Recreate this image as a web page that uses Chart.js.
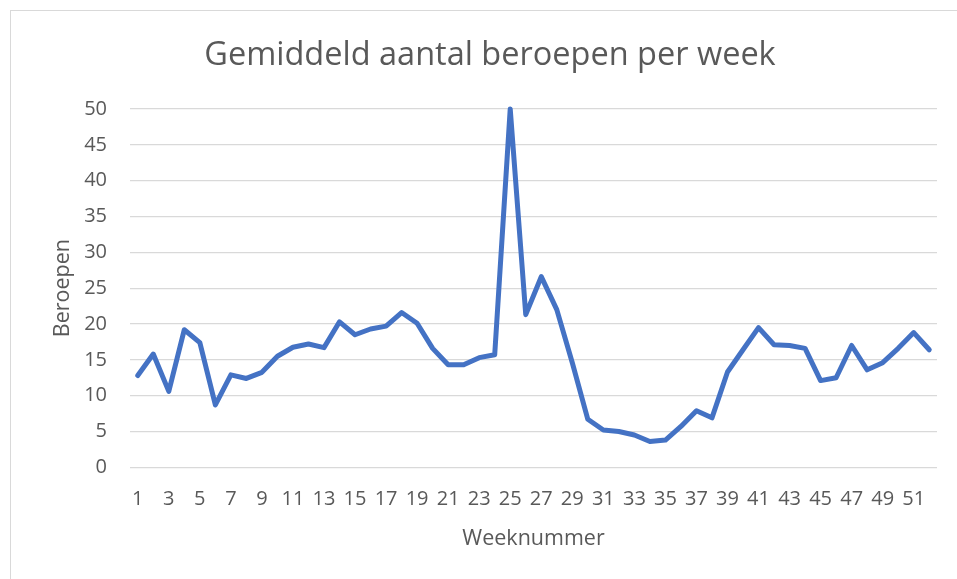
<!DOCTYPE html>
<html>
<head>
<meta charset="utf-8">
<script src="https://cdn.jsdelivr.net/npm/chart.js@4"></script>
<style>
  html, body { margin: 0; padding: 0; background: #ffffff; overflow: hidden; }
  #frame { position: absolute; left: 10px; top: 10px; width: 1000px; height: 700px; border: 1px solid #d9d9d9; box-sizing: border-box; }
  #c { position: absolute; left: 0; top: 0; }
</style>
</head>
<body>
<div id="frame"></div>
<canvas id="c" width="957" height="579"></canvas>
<script>
const weeks = Array.from({length: 52}, (_, i) => String(i + 1));
const beroepen = [
  12.8, 15.8, 10.6, 19.2, 17.4, 8.7, 12.9, 12.4, 13.25, 15.5,
  16.75, 17.2, 16.7, 20.3, 18.5, 19.3, 19.7, 21.6, 20.1, 16.6,
  14.3, 14.3, 15.3, 15.7, 50.0, 21.3, 26.6, 22.0, 14.6, 6.7,
  5.2, 5.0, 4.5, 3.6, 3.8, 5.7, 7.9, 6.9, 13.3, 16.4,
  19.5, 17.1, 17.0, 16.6, 12.1, 12.5, 17.0, 13.6, 14.6, 16.6,
  18.8, 16.4
];
const titleText = 'Gemiddeld aantal beroepen per week';
const xTitle = 'Weeknummer';
const yTitle = 'Beroepen';

const textColor = '#595959';
const gridColor = '#d9d9d9';
const fontFamily = '"Open Sans", "Noto Sans", sans-serif';

new Chart(document.getElementById('c'), {
  type: 'line',
  data: {
    labels: weeks,
    datasets: [{
      label: yTitle,
      data: beroepen,
      borderColor: '#4472C4',
      backgroundColor: '#4472C4',
      borderWidth: 5,
      pointRadius: 0,
      pointHoverRadius: 0,
      tension: 0,
      borderJoinStyle: 'round',
      borderCapStyle: 'round',
      clip: false
    }]
  },
  options: {
    responsive: false,
    animation: false,
    layout: { padding: { left: 43, right: 20, top: 0, bottom: 0 } },
    plugins: {
      legend: { display: false },
      tooltip: { enabled: false },
      title: {
        display: true,
        text: titleText,
        color: textColor,
        font: { family: fontFamily, size: 32.5, weight: 'normal', lineHeight: 1.2 },
        padding: { top: 36.5, bottom: 33.5 }
      }
    },
    scales: {
      x: {
        offset: true,
        grid: { display: false, drawTicks: false },
        border: { display: false },
        ticks: {
          autoSkip: false,
          maxRotation: 0,
          minRotation: 0,
          padding: 19.5,
          color: textColor,
          font: { family: fontFamily, size: 20, lineHeight: 1.2 },
          callback: function (v, i) { return i % 2 === 0 ? weeks[i] : ''; }
        },
        title: {
          display: true,
          text: xTitle,
          color: textColor,
          font: { family: fontFamily, size: 21.5, lineHeight: 1.2 },
          padding: { top: 10, bottom: 27 }
        },
        afterFit: function (s) { s.height = 111.7; }
      },
      y: {
        min: 0,
        max: 50,
        grid: { color: gridColor, lineWidth: 1.3, drawTicks: false },
        border: { display: false },
        ticks: {
          stepSize: 5,
          padding: 23,
          color: textColor,
          font: { family: fontFamily, size: 20, lineHeight: 1.2 }
        },
        title: {
          display: true,
          text: yTitle,
          color: textColor,
          font: { family: fontFamily, size: 21.5, lineHeight: 1.2 },
          padding: { top: 6.6, bottom: 5 }
        },
        afterFit: function (s) { s.width = 87; }
      }
    }
  }
});
</script>
</body>
</html>
